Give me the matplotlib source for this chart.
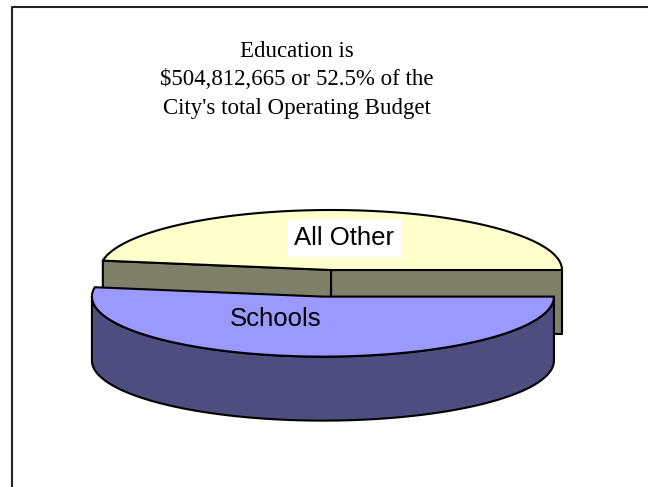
import numpy as np
import matplotlib.pyplot as plt
from matplotlib.patches import Polygon

# chart data
labels = ['All Other', 'Schools']
values = [47.5, 52.5]
explode = [0.0, 0.445]
top_colors = ['#FFFFCC', '#9999FF']
side_colors = ['#80806A', '#4D4D80']
title_lines = ['Education is',
               '$504,812,665 or 52.5% of the',
               "City's total Operating Budget"]

# pie layout (pixels)
cx, cy = 331, 270
rx, ry = 231, 60
depth = 64
label_offsets = [(0.055, 0.53), (-0.205, -0.37)]   # fractions of the radius, up = positive


def rim(t, ox, oy, z=0):
    t = np.radians(t)
    return np.column_stack([ox + rx * np.cos(t), oy - ry * np.sin(t) + z])


fig = plt.figure(figsize=(6.48, 4.87), dpi=100)
ax = fig.add_axes([0, 0, 1, 1])
ax.set_xlim(0, 648)
ax.set_ylim(487, 0)
ax.axis('off')

edge = dict(edgecolor='black', linewidth=1.5, joinstyle='round')

angles = np.concatenate([[0], np.cumsum(values) / sum(values) * 360])
slices = []
for i in range(len(values)):
    t1, t2 = angles[i], angles[i + 1]
    mid = np.radians((t1 + t2) / 2)
    ox = cx + rx * explode[i] * np.cos(mid)
    oy = cy - ry * explode[i] * np.sin(mid)
    slices.append((np.sin(mid), i, t1, t2, ox, oy))

# back slices first
for _, i, t1, t2, ox, oy in sorted(slices, reverse=True):
    centre = np.array([[ox, oy]])
    # cut faces that look towards the viewer
    for t, show in [(t1, np.cos(np.radians(t1)) > 0), (t2, np.cos(np.radians(t2)) < 0)]:
        if show:
            p = rim([t], ox, oy)[0]
            face = [[ox, oy], p, p + [0, depth], [ox, oy + depth]]
            ax.add_patch(Polygon(face, facecolor=side_colors[i], **edge))
    # outer wall (front half only)
    lo, hi = max(t1, 180), min(t2, 360)
    if lo < hi:
        ts = np.linspace(lo, hi, 120)
        wall = np.vstack([rim(ts, ox, oy), rim(ts[::-1], ox, oy, depth)])
        ax.add_patch(Polygon(wall, facecolor=side_colors[i], **edge))
    # top surface
    ts = np.linspace(t1, t2, 200)
    top = np.vstack([centre, rim(ts, ox, oy)])
    ax.add_patch(Polygon(top, facecolor=top_colors[i], **edge))

    fx, fy = label_offsets[i]
    box = dict(facecolor='white', edgecolor='none', pad=5) if i == 0 else None
    ax.text(ox + fx * rx, oy - fy * ry, labels[i], ha='center', va='center',
            fontsize=18.5, family='Liberation Sans', bbox=box)

for line, y in zip(title_lines, [56.7, 85.3, 114]):
    ax.text(297, y, line, ha='center', va='baseline', fontsize=16.5,
            family='Liberation Serif', parse_math=False)

# chart border (only top and left visible)
ax.plot([11.5, 11.5, 660], [500, 6.5, 6.5], color='#222222', lw=1.5, clip_on=False)

fig.savefig('out.png', dpi=100)
